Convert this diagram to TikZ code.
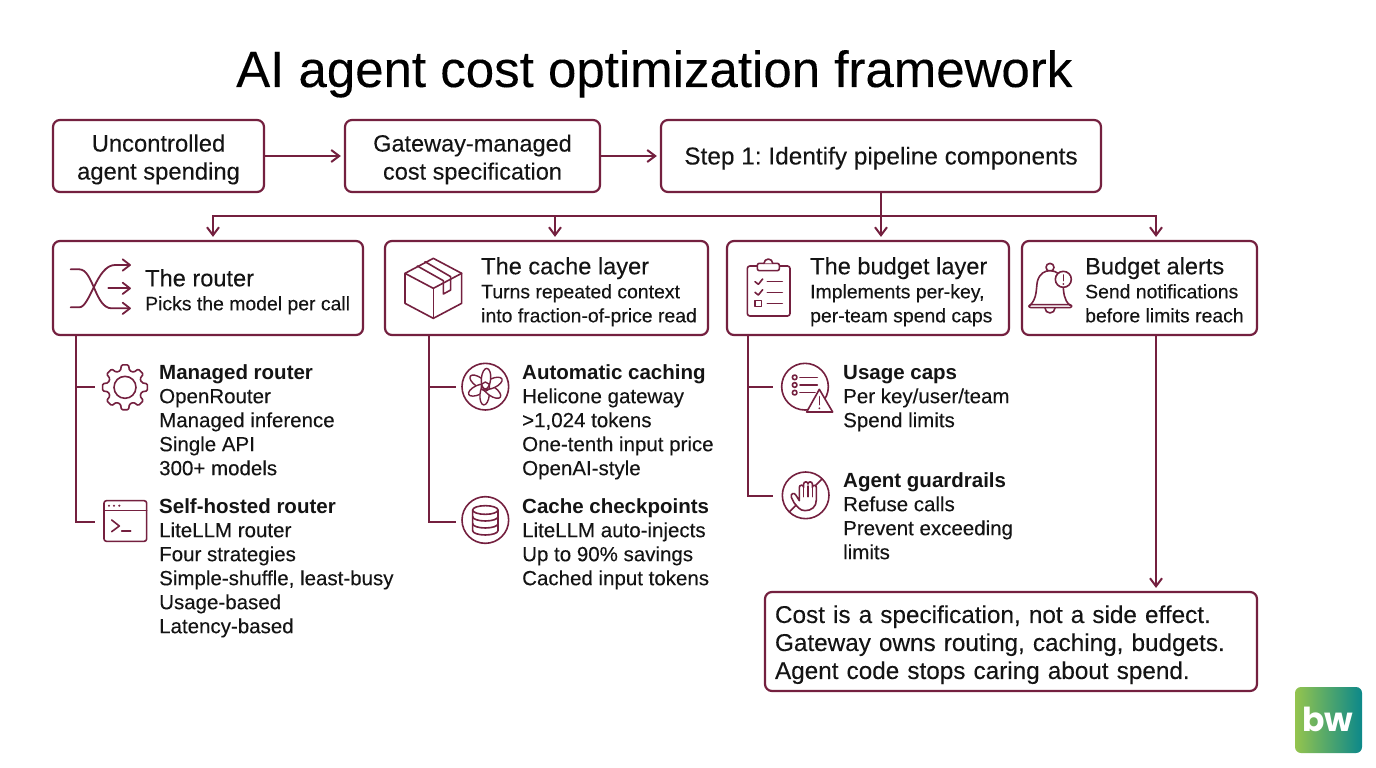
\documentclass[tikz,border=0pt]{standalone}
\usepackage{fontspec}
\setmainfont{Liberation Sans}[FakeBold=0.15,BoldFeatures={FakeBold=0}]
\newfontfamily\bwfont{Poppins}
\usetikzlibrary{arrows.meta,calc}
\definecolor{wine}{HTML}{74203F}
\definecolor{ink}{HTML}{141414}
\newcommand{\fsz}[2]{\fontsize{#1}{#2}\selectfont}
\newcommand{\fl}{\rule{0pt}{16pt}}
\newcommand{\hd}[1]{{\fsz{23.6}{24}#1}}
\tikzset{
  card/.style={draw=wine,line width=2.2pt,rounded corners=7pt,fill=white,inner sep=0pt,text=ink,align=center},
  conn/.style={draw=wine,line width=2.2pt},
  arr/.style={conn,shorten >=3pt,-{Straight Barb[length=8pt,width=12pt,line width=2pt]}},
  txt/.style={anchor=north west,inner sep=0pt,align=left,text=ink,font=\fsz{20.5}{24}},
  htxt/.style={anchor=north west,inner sep=0pt,align=left,text=ink,font=\fsz{19.4}{24}},
  spot/.style={inner sep=0pt,outer sep=0pt,minimum size=#1,shape=circle},
  ico/.style={draw=wine,line width=1.6pt,line cap=round,line join=round},
  zm/.style={shift={#1},x=0.33333pt,y=-0.33333pt},
}
\begin{document}
\frenchspacing
\begin{tikzpicture}[x=1pt,y=-1pt]
\useasboundingbox (0,0) rectangle (1376,768);
\fill[white] (0,0) rectangle (1376,768);

\node[anchor=base west,inner sep=0pt,text=black,font=\fsz{51}{56}] (title) at (236,87) {AI agent cost optimization framework};

% top row
\node[card,minimum width=211,minimum height=72,font=\fsz{23.8}{28}] (uncontrolled) at (158.5,156) {\rule{0pt}{24pt}Uncontrolled\\agent spending};
\node[card,minimum width=255,minimum height=72,font=\fsz{23.5}{28}] (gateway) at (472.5,156) {\rule{0pt}{24pt}Gateway-managed\\cost specification};
\node[card,minimum width=440,minimum height=72,font=\fsz{24.4}{28}] (step) at (881,156) {\rule{0pt}{22pt}Step 1: Identify pipeline components};
\draw[arr] (uncontrolled) -- (gateway);
\draw[arr] (gateway) -- (step);

% second row
\node[card,minimum width=310,minimum height=94] (router) at (208,288) {};
\node[card,minimum width=323,minimum height=94] (cache) at (546.5,288) {};
\node[card,minimum width=282,minimum height=94] (budget) at (868,288) {};
\node[card,minimum width=235,minimum height=94] (alerts) at (1139.5,288) {};
\node[card,minimum width=492,minimum height=99,text width=472,align=left,font=\fsz{24.3}{28}] (callout) at (1011,641.5) {\rule{0pt}{24pt}Cost is a specification, not a side effect.\\Gateway owns routing, caching, budgets.\\Agent code stops caring about spend.};

% bus
\coordinate (bus) at (881,216);
\draw[arr] (step.south) -- (step.south |- budget.north);
\draw[arr] (bus) -| ([xshift=5pt]router.north);
\draw[arr] (bus) -| ([xshift=8.5pt]cache.north);
\draw[arr] (bus) -| ([xshift=16.5pt]alerts.north);
\coordinate (alertsout) at ([xshift=16.5pt]alerts.south);
\draw[arr] (alertsout) -- (alertsout |- callout.north);

% header texts
\node[htxt] (routertext) at (145,269) {\fl\hd{The router}\\Picks the model per call};
\node[htxt] (cachetext) at (481,257) {\fl\hd{The cache layer}\\Turns repeated context\\into fraction-of-price read};
\node[htxt] (budgettext) at (810,257) {\fl\hd{The budget layer}\\Implements per-key,\\per-team spend caps};
\node[htxt] (alertstext) at (1085,257) {\fl\hd{Budget alerts}\\Send notifications\\before limits reach};

% spots for icons
\node[spot=60] (gear) at (125,387) {};
\node[spot=60] (term) at (125,522) {};
\node[spot=60] (knot) at (485.5,387) {};
\node[spot=60] (db) at (485.5,522) {};
\node[spot=60] (caps) at (803,387) {};
\node[spot=60] (guard) at (803,496) {};

% branches
\coordinate (routertrunk) at ([xshift=-132pt]router.south);
\coordinate (cachetrunk) at ([xshift=-117.5pt]cache.south);
\coordinate (budgettrunk) at ([xshift=-120pt]budget.south);
\draw[conn] (routertrunk) |- (term.west);
\draw[conn] (routertrunk |- gear.west) -- (gear.west);
\draw[conn] (cachetrunk) |- (db.west);
\draw[conn] (cachetrunk |- knot.west) -- (knot.west);
\draw[conn] (budgettrunk) |- (guard.west);
\draw[conn] (budgettrunk |- caps.west) -- (caps.west);

% list texts
\node[txt] (t1) at (159,363) {\fl\textbf{Managed router}\\OpenRouter\\Managed inference\\Single API\\300+ models};
\node[txt] (t2) at (159,497) {\fl\textbf{Self-hosted router}\\LiteLLM router\\Four strategies\\Simple-shuffle, least-busy\\Usage-based\\Latency-based};
\node[txt] (t3) at (522,363) {\fl\textbf{Automatic caching}\\Helicone gateway\\>1,024 tokens\\One-tenth input price\\OpenAI-style};
\node[txt] (t4) at (522,497) {\fl\textbf{Cache checkpoints}\\LiteLLM auto-injects\\Up to 90\% savings\\Cached input tokens};
\node[txt] (t5) at (843,363) {\fl\textbf{Usage caps}\\Per key/user/team\\Spend limits};
\node[txt] (t6) at (843,471) {\fl\textbf{Agent guardrails}\\Refuse calls\\Prevent exceeding\\limits};

% --- icons ---
% shuffle
\begin{scope}[zm={(40,230)}]
\draw[ico,line width=1.8pt] (92,118) -- (118,118) .. controls (160,118) and (165,235) .. (215,235) -- (268,235);
\draw[ico,line width=1.8pt] (92,232) -- (118,232) .. controls (150,232) and (170,105) .. (225,105) -- (268,105);
\draw[ico,line width=1.8pt] (205,175) -- (268,175);
\draw[ico,line width=1.8pt] (248,88) -- (270,105) -- (248,122);
\draw[ico,line width=1.8pt] (248,158) -- (270,175) -- (248,192);
\draw[ico,line width=1.8pt] (248,218) -- (270,235) -- (248,252);
\end{scope}
% gear
\begin{scope}[zm={(40,230)}]
\begin{scope}[shift={(255,472)}]
\draw[ico,rounded corners=1.2pt] (-15:52) \foreach \a in {0,45,...,315} { -- (\a-15:52) -- (\a-9:68) -- (\a+9:68) -- (\a+15:52) } -- cycle;
\draw[ico] (0,0) circle[radius=33];
\end{scope}
\end{scope}
% terminal
\begin{scope}[zm={(40,230)}]
\draw[ico,rounded corners=2.5pt] (192,812) rectangle (320,934);
\draw[ico] (192,842) -- (320,842);
\foreach \x in {207,222,238} \fill[wine] (\x,827) circle[radius=3.5];
\draw[ico] (215,870) -- (238,888) -- (215,905);
\draw[ico] (245,903) -- (272,903);
\end{scope}
% parcel
\begin{scope}[zm={(380,230)}]
\draw[ico] (160,85) -- (245,130) -- (245,220) -- (160,265) -- (75,220) -- (75,130) -- cycle;
\draw[ico] (75,130) -- (160,175) -- (245,130);
\draw[ico] (160,175) -- (160,265);
\draw[ico] (112,108) -- (190,152) -- (190,192) -- (212,180) -- (212,140) -- (135,95);
\end{scope}
% knot
\begin{scope}[zm={(380,230)}]
\begin{scope}[shift={(316,470)}]
\draw[ico] (0,0) circle[radius=70];
\foreach \a in {0,60,...,300} \draw[ico,line width=1.4pt,fill=white,rotate=\a] (0,-24) [rotate=55] ellipse[x radius=14,y radius=31];
\draw[ico,line width=1.4pt] (-30:14) -- (30:14) -- (90:14) -- (150:14) -- (210:14) -- (270:14) -- cycle;
\end{scope}
\end{scope}
% database
\begin{scope}[zm={(380,230)}]
\draw[ico] (316,870) circle[radius=70];
\draw[ico] (316,840) ellipse[x radius=38,y radius=13];
\draw[ico] (278,840) -- (278,902) arc[start angle=180,end angle=0,x radius=38,y radius=13] -- (354,840);
\draw[ico] (278,860) arc[start angle=180,end angle=0,x radius=38,y radius=13];
\draw[ico] (278,881) arc[start angle=180,end angle=0,x radius=38,y radius=13];
\end{scope}
% clipboard
\begin{scope}[zm={(720,230)}]
\draw[ico,rounded corners=2.5pt] (82,108) rectangle (210,258);
\draw[ico,fill=white,rounded corners=2pt] (112,100) rectangle (178,122);
\draw[ico,fill=white] (132,100) arc[start angle=180,end angle=360,radius=13];
\draw[ico] (105,155) -- (115,163) -- (128,147);
\draw[ico] (105,187) -- (115,195) -- (128,179);
\draw[ico] (142,155) -- (187,155);
\draw[ico] (142,187) -- (187,187);
\draw[ico] (105,212) rectangle (125,230);
\draw[ico] (142,220) -- (187,220);
\end{scope}
% usage caps
\begin{scope}[zm={(720,230)}]
\draw[ico] (255,470) circle[radius=70];
\foreach \y in {442,465,488} \draw[ico] (224,\y) circle[radius=7];
\draw[ico] (240,442) -- (292,442);
\draw[ico] (240,465) -- (292,465);
\draw[ico] (240,488) -- (285,488);
\draw[ico,fill=white] (298,478) -- (338,546) -- (260,546) -- cycle;
\draw[ico] (298,500) -- (298,524);
\fill[wine] (298,535) circle[radius=3];
\end{scope}
% guardrail
\begin{scope}[zm={(720,230)}]
\draw[ico] (257,796) circle[radius=70];
\draw[ico] (208,846) -- (306,747);
\draw[ico,fill=white] (238,812) -- (238,772) arc[start angle=180,end angle=360,radius=6.5]
  -- (251,762) arc[start angle=180,end angle=360,radius=6.5]
  -- (264,762) arc[start angle=180,end angle=360,radius=6.5]
  -- (277,772) arc[start angle=180,end angle=360,radius=6]
  -- (289,810) .. controls (289,830) and (275,842) .. (255,842)
  .. controls (240,842) and (232,830) .. (222,818) -- (214,802)
  .. controls (210,790) and (224,786) .. (228,796) -- cycle;
\draw[ico] (251,772) -- (251,800);
\draw[ico] (264,768) -- (264,800);
\draw[ico] (277,772) -- (277,800);
\end{scope}
% bell
\begin{scope}[zm={(1010,230)}]
\draw[ico] (120,112) circle[radius=12];
\draw[ico,fill=white] (60,226) .. controls (82,205) and (78,175) .. (82,155) .. controls (88,130) and (105,122) .. (120,122)
  .. controls (140,122) and (155,135) .. (158,155) .. controls (162,190) and (160,208) .. (180,226);
\draw[ico,rounded corners=2pt] (57,224) rectangle (185,233);
\draw[ico] (105,234) arc[start angle=180,end angle=0,radius=15];
\draw[ico,fill=white] (160,148) circle[radius=24];
\draw[ico] (160,135) -- (160,152);
\fill[wine] (160,162) circle[radius=3.2];
\end{scope}

% logo
\shade[rounded corners=6pt,left color={rgb,255:red,148;green,196;blue,78},right color={rgb,255:red,12;green,136;blue,138}] (1295,687) rectangle (1362,753);
\node[inner sep=0pt,text=white,font=\bwfont\bfseries\fsz{33}{36}] (bw) at (1328,719) {bw};
\end{tikzpicture}
\end{document}
